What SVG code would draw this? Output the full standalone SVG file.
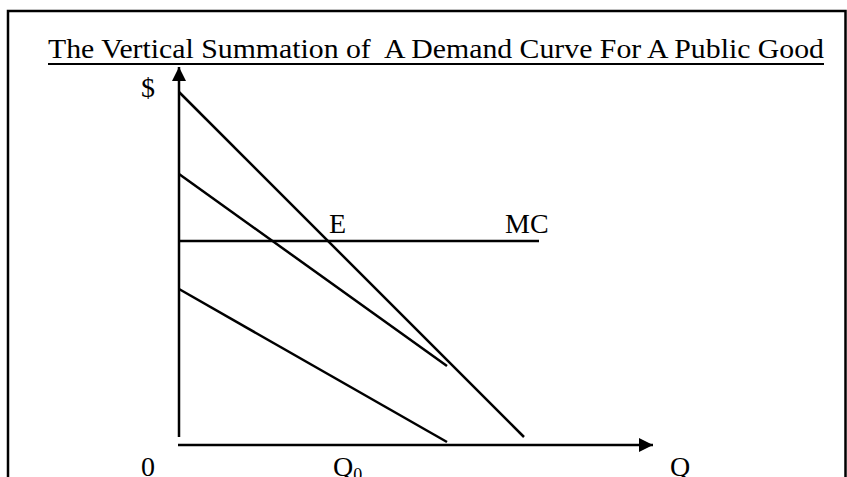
<svg xmlns="http://www.w3.org/2000/svg" width="847" height="477" viewBox="0 0 847 477">
<style>
.ln{stroke:#000;stroke-width:2.5;fill:none;stroke-linecap:butt}
.t{font-family:"Liberation Serif","Times New Roman",serif;font-size:28px;fill:#000}
.sub{font-size:18px}
</style>
<defs>
<marker id="ah" viewBox="0 0 10 10" refX="10" refY="5" markerWidth="14" markerHeight="14" markerUnits="userSpaceOnUse" orient="auto">
<path d="M0,0 L10,5 L0,10 Z" fill="#000"/>
</marker>
</defs>
<rect width="847" height="477" fill="#fff"/>
<g id="frame"><path class="ln" d="M8,480 V11 H845.5 V480"/></g>
<g id="title">
<text class="t" x="48" y="58" xml:space="preserve" textLength="776" lengthAdjust="spacingAndGlyphs">The Vertical Summation of  A Demand Curve For A Public Good</text>
<line x1="48" y1="64" x2="824" y2="64" stroke="#000" stroke-width="2"/>
</g>
<g id="axes">
<line class="ln" x1="179" y1="437" x2="179" y2="67" marker-end="url(#ah)"/>
<line class="ln" x1="178" y1="445" x2="653" y2="445" marker-end="url(#ah)"/>
</g>
<g id="connectors">
<line id="sum-demand" class="ln" x1="179" y1="92" x2="524" y2="437"/>
<line id="demand-a" class="ln" x1="179" y1="174" x2="447" y2="366"/>
<line id="demand-b" class="ln" x1="179" y1="289" x2="447" y2="442"/>
<line id="mc" class="ln" x1="179" y1="241" x2="539" y2="241"/>
</g>
<g id="labels">
<text class="t" x="141" y="97">$</text>
<text class="t" x="329" y="233">E</text>
<text class="t" x="505" y="233">MC</text>
<text class="t" x="141" y="476">0</text>
<text class="t" x="333" y="476">Q<tspan class="sub" dy="5">0</tspan></text>
<text class="t" x="670" y="476">Q</text>
</g>
</svg>
